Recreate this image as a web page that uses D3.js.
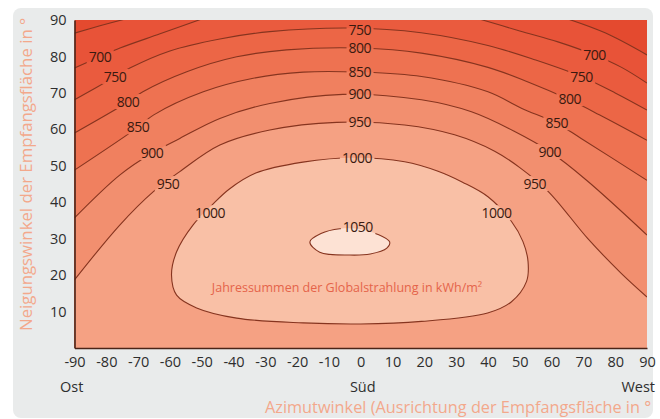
<!DOCTYPE html>
<html><head><meta charset="utf-8">
<script src="https://cdn.jsdelivr.net/npm/d3@7"></script>
<style>body{margin:0;background:#fff}</style>
</head><body>
<svg id="chart" width="660" height="419"></svg>
<script>
// ---------- data ----------
const azimuthTicks = [-90,-80,-70,-60,-50,-40,-30,-20,-10,0,10,20,30,40,50,60,70,80,90];
const tiltTicks = [10,20,30,40,50,60,70,80,90];
const directionLabels = [["Ost",-90],["Süd",0],["West",90]];
const levels = [650,700,750,800,850,900,950,1000,1050];

// contour lines as [azimuth, tilt] points; open contours may have several pieces
const contour650 = [
  [[-90,86.4],[-82,88.4],[-73.5,90.4]],
  [[64.7,90.4],[77,86.4],[90,80.4]]
];
const contour700 = [
  [[-90,76.8],[-82,79.9],[-75.7,82.3],[-63.1,86.2],[-49.6,90.4]],
  [[36.8,90.4],[50,87],[62,84],[73.5,80.4],[82,77],[90,72.7]]
];
const contour750 = [
  [[-90,68.1],[-77.3,74.4],[-72.6,76.8],[-60,81.5],[-44.3,84.8],[-28.6,86.8],[-3,87.8],
   [19,86.5],[40,83],[55,79],[69.3,74.5],[80,70],[90,65.3]]
];
const contour800 = [
  [[-90,59],[-73.2,67.5],[-68.5,70.3],[-54.7,75.8],[-39,79.9],[-23.3,81.8],[0,82.3],
   [19.1,80.9],[40,77],[52.6,73],[65.7,68.1],[75,64],[90,57]]
];
const contour850 = [
  [[-90,48.8],[-70,60.6],[-65.2,63.9],[-49.5,70.3],[-33.8,74],[-18.1,75.7],[0,75.7],
   [19.1,74.5],[40,70.3],[50.5,65.8],[61.5,61.7],[69.3,57.5],[90,46]]
];
const contour900 = [
  [[-90,35.7],[-75.7,47.5],[-65.6,53.5],[-56.9,57.5],[-44.3,63],[-28.6,67.1],[-5.6,69.6],
   [19.1,68.1],[34.8,64.8],[48.4,59.4],[59.4,53.9],[70.9,46.1],[90,31]]
];
const contour950 = [
  [[-90,18.7],[-75.7,33.8],[-65.2,42.9],[-56.9,48.4],[-44.3,55.7],[-28.6,59.8],[-7.6,61.9],
   [13.8,61.2],[29.5,58.5],[42.1,54],[50,49.5],[58.9,43],[71.4,30],[81.9,20.5],[90,14]]
];
const contour1000 = [
  [[-2,52.2],[13.8,51.1],[24.3,48.5],[32,45.5],[40,41.5],[47.4,34.7],[51,29.2],[52.6,23.7],
   [52.1,18.2],[47.4,12.7],[39.9,9.6],[19.1,7.3],[0,6.6],[-18.2,6.9],[-39,8.2],[-51.6,11],
   [-57.9,14.5],[-59.5,20],[-57.9,26.4],[-52.7,33.8],[-47,39],[-41.5,43.5],[-33,48],[-18.2,51]]
];
const contour1050 = [
  [[-16,29.1],[-12.5,31.4],[-6.6,32.7],[0,32.6],[5,31.3],[9.1,29.1],[8.2,27.4],[3,25.8],
   [-3.4,25.5],[-12.9,26.3]]
];
const contours = [contour650,contour700,contour750,contour800,contour850,contour900,contour950,contour1000,contour1050];
const closedContour = [false,false,false,false,false,false,false,true,true];

// contour label positions: [value, azimuth, tilt]
const contourLabels = [
  [700,-82,79.9],[750,-77.3,74.4],[800,-73.2,67.5],[850,-70,60.6],[900,-65.6,53.5],[950,-60.6,45],[1000,-47.4,37],
  [750,-0.3,87.3],[800,-0.3,82.3],[850,-0.3,75.7],[900,-0.3,69.7],[950,-0.3,62],[1000,-1.2,52.1],[1050,-0.9,33.2],
  [700,73.5,80.4],[750,69.4,74.4],[800,65.7,68.3],[850,61.6,61.7],[900,59.4,53.8],[950,54.7,45],[1000,42.7,37]
];
const xTitle = "Azimutwinkel (Ausrichtung der Empfangsfläche in °";
const yTitle = "Neigungswinkel der Empfangsfläche in °";
const note = "Jahressummen der Globalstrahlung in kWh/m²";

// ---------- drawing ----------
const bandColors = ["#e44a2f","#e85338","#ea5b3e","#ec6646","#ee7251","#f0805f","#f28f6f","#f5a183","#f9c0a6","#fde2d4"];
const svg = d3.select("#chart");
const font = "'Open Sans', 'DejaVu Sans', sans-serif";

svg.append("rect").attr("x",13).attr("y",8).attr("width",640).attr("height",410)
  .attr("rx",8).attr("fill","#e9ebeb");

const x = d3.scaleLinear().domain([-90,90]).range([74.5,647]);
const y = d3.scaleLinear().domain([0,90]).range([348,20]);

const defs = svg.append("defs");
defs.append("clipPath").attr("id","plotclip").append("rect")
  .attr("x",x(-90)).attr("y",y(90)).attr("width",x(90)-x(-90)).attr("height",y(0)-y(90));

const plot = svg.append("g").attr("clip-path","url(#plotclip)");
plot.append("rect").attr("x",x(-90)).attr("y",y(90)).attr("width",x(90)-x(-90)).attr("height",y(0)-y(90))
  .attr("fill",bandColors[0]);

const lineOpen = d3.line().x(d=>x(d[0])).y(d=>y(d[1])).curve(d3.curveCatmullRom.alpha(0.5));
const lineClosed = d3.line().x(d=>x(d[0])).y(d=>y(d[1])).curve(d3.curveCatmullRomClosed.alpha(0.5));

function fillPath(segs, closed){
  if (closed) return lineClosed(segs[0]);
  let p = segs.map((s,i)=>{const str=lineOpen(s); return i ? "L"+str.slice(1) : str;}).join("");
  return p + `L${x(90)},${y(0)}L${x(-90)},${y(0)}Z`;
}

contours.forEach((segs,i)=>{
  plot.append("path").attr("d",fillPath(segs,closedContour[i])).attr("fill",bandColors[i+1]);
});

// labels first (to measure), mask for lines
const labelG = svg.append("g");
const labels = labelG.selectAll("text").data(contourLabels).join("text")
  .attr("x",d=>x(d[1])).attr("y",d=>y(d[2])).attr("dy","0.36em")
  .attr("text-anchor","middle").attr("font-family",font).attr("font-size","14px")
  .attr("letter-spacing","-0.5").attr("fill","#3a1a10").text(d=>d[0]);

const mask = defs.append("mask").attr("id","labelmask").attr("maskUnits","userSpaceOnUse")
  .attr("x",0).attr("y",0).attr("width",660).attr("height",419);
mask.append("rect").attr("x",0).attr("y",0).attr("width",660).attr("height",419).attr("fill","white");
labels.each(function(){
  const b = this.getBBox();
  mask.append("rect").attr("x",b.x-2).attr("y",b.y+2).attr("width",b.width+4).attr("height",b.height-4).attr("fill","black");
});

const lineG = plot.append("g").attr("mask","url(#labelmask)");
contours.forEach((segs,i)=>{
  segs.forEach(s=>{
    lineG.append("path").attr("d",closedContour[i] ? lineClosed(s) : lineOpen(s))
      .attr("fill","none").attr("stroke","#86341f").attr("stroke-width",1.1);
  });
});
labelG.raise();

// note inside
svg.append("text").attr("x",347).attr("y",292).attr("text-anchor","middle")
  .attr("font-family",font).attr("font-size","12.5px").attr("fill","#e5644a").text(note);

// axes
const xAxis = svg.append("g").attr("transform",`translate(0,${y(0)})`)
  .call(d3.axisBottom(x).tickValues(azimuthTicks).tickSize(0).tickPadding(9).tickFormat(d3.format("d")));
const yAxis = svg.append("g").attr("transform",`translate(${x(-90)},0)`)
  .call(d3.axisLeft(y).tickValues(tiltTicks).tickSize(0).tickPadding(8));
[xAxis,yAxis].forEach(a=>{
  a.select(".domain").attr("stroke","#4a2418").attr("stroke-width",1.6);
  a.selectAll("text").attr("font-family",font).attr("font-size","14.5px").attr("fill","#2e2e2e");
});
xAxis.selectAll("text").text(d=>String(d).replace("\u2212","-"));

svg.selectAll("text.dir").data(directionLabels).join("text").attr("class","dir")
  .attr("x",d=> d[1]<0 ? 60 : d[1]>0 ? 655 : x(d[1])+2)
  .attr("y",392)
  .attr("text-anchor",d=> d[1]<0 ? "start" : d[1]>0 ? "end" : "middle")
  .attr("font-family",font).attr("font-size","14.5px").attr("fill","#2e2e2e").text(d=>d[0]);

svg.append("text").attr("x",265).attr("y",413).attr("font-family",font).attr("font-size","16.3px")
  .attr("fill","#f3a88b").text(xTitle);
svg.append("text").attr("transform","translate(32,331) rotate(-90)").attr("font-family",font)
  .attr("font-size","16.8px").attr("fill","#f3a88b").text(yTitle);
</script>
</body></html>
